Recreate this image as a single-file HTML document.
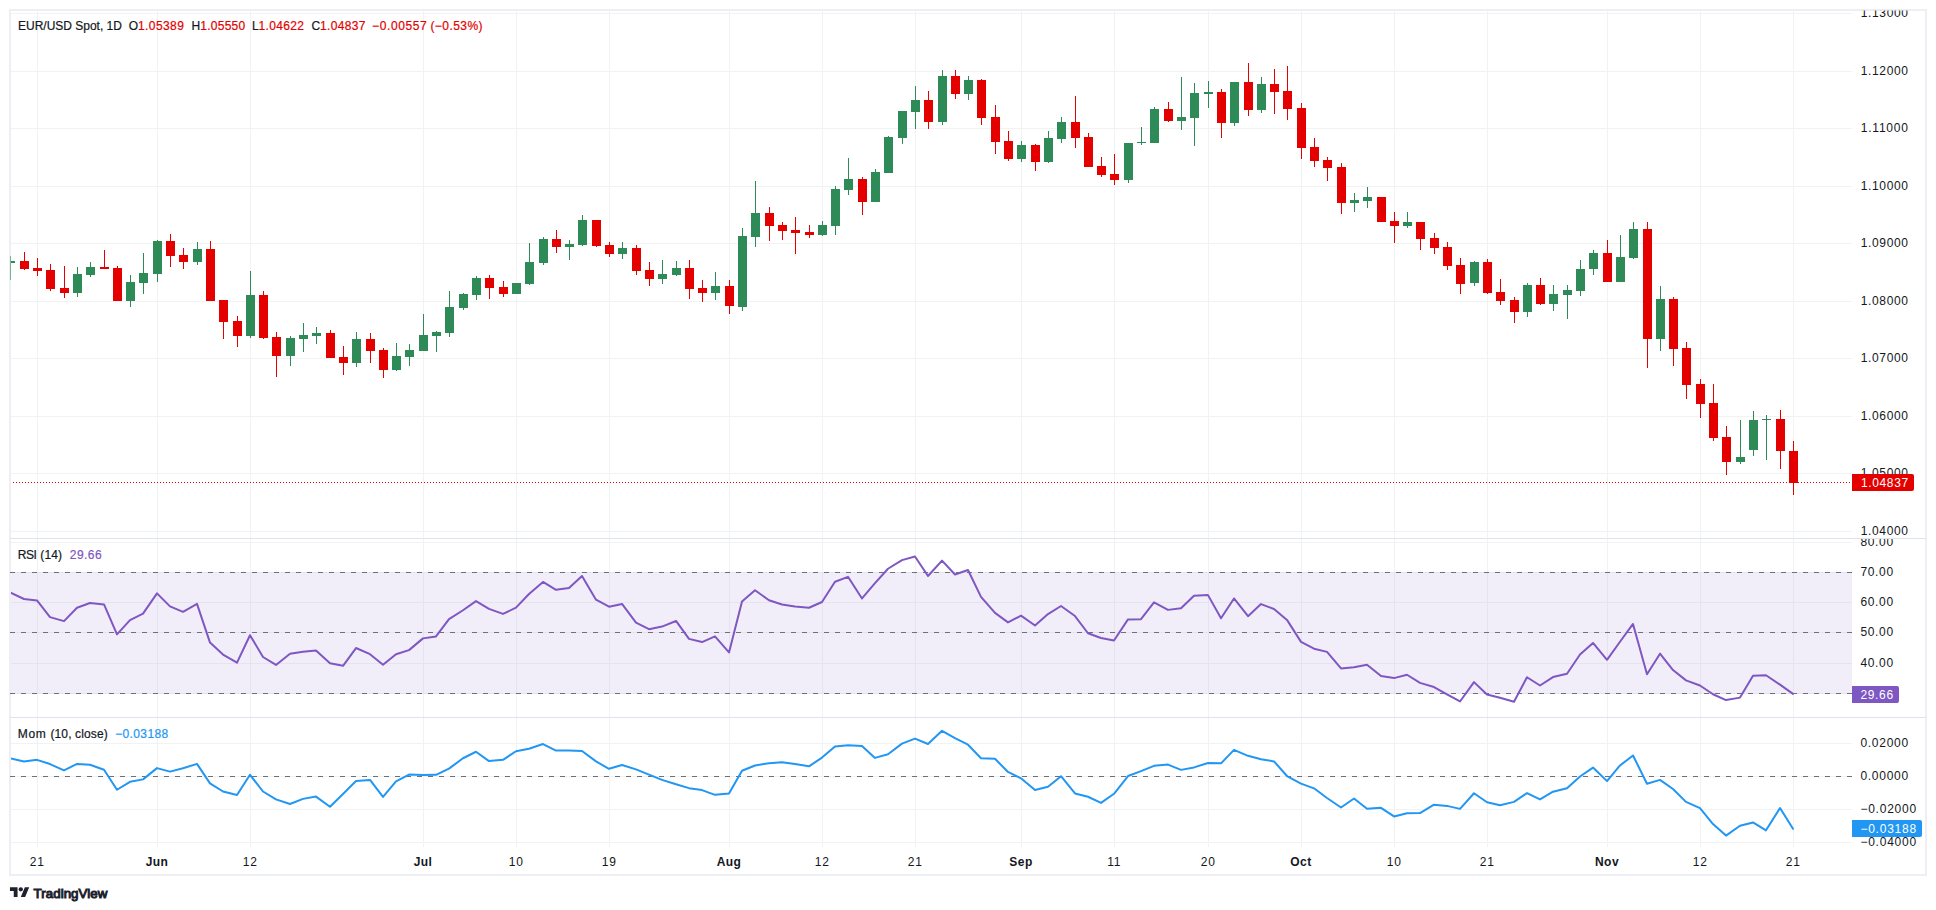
<!DOCTYPE html>
<html lang="en"><head><meta charset="utf-8"><title>EUR/USD Spot, 1D</title>
<style>html,body{margin:0;padding:0;background:#fff}body{width:1936px;height:910px;overflow:hidden;position:relative}svg{position:absolute;left:0;top:0;display:block}text{font-family:"Liberation Sans",sans-serif;font-size:12px;fill:#131722;stroke:none}.k{stroke:#131722;stroke-width:.2px}.b{font-weight:bold;stroke:none}.w{fill:#fff;stroke:none}.n{letter-spacing:.7px}.m{letter-spacing:.45px}.r{fill:#e50000;stroke:#e50000;stroke-width:.2px}.p{fill:#7e57c2;stroke:#7e57c2;stroke-width:.2px}.bl{fill:#2196f3;stroke:#2196f3;stroke-width:.2px}</style></head><body>
<svg width="1936" height="910" viewBox="0 0 1936 910">
<rect x="0" y="0" width="1936" height="910" fill="#fff"/>
<rect x="10" y="10" width="1916" height="865" fill="none" stroke="#eeeff4" stroke-width="2"/>
<path d="M11 13.50H1852M11 71.50H1852M11 128.50H1852M11 186.50H1852M11 243.50H1852M11 301.50H1852M11 358.50H1852M11 416.50H1852M11 473.50H1852M11 531.50H1852M11 542.50H1852M11 572.50H1852M11 602.50H1852M11 632.50H1852M11 663.50H1852M11 693.50H1852M11 743.50H1852M11 776.50H1852M11 809.50H1852M11 842.50H1852M37.50 11V847M157.50 11V847M250.50 11V847M423.50 11V847M516.50 11V847M609.50 11V847M729.50 11V847M822.50 11V847M915.50 11V847M1021.50 11V847M1114.50 11V847M1208.50 11V847M1301.50 11V847M1394.50 11V847M1487.50 11V847M1607.50 11V847M1700.50 11V847M1793.50 11V847" stroke="#f1f3f2" stroke-width="1" fill="none"/>
<rect x="11" y="572" width="1841" height="122" fill="rgb(126,87,194)" fill-opacity="0.1"/>
<path d="M10 538.5H1926M10 717.5H1926" stroke="#e0e3eb" stroke-width="1" fill="none"/>
<path d="M10 572.5H1852M10 632.5H1852M10 693.5H1852M10 776.5H1852" stroke="#6d707b" stroke-width="1" stroke-dasharray="5 6" fill="none"/>
<clipPath id="cp"><rect x="11" y="11" width="1841" height="527"/></clipPath>
<rect x="10" y="256" width="1" height="24" fill="#2e8b57" fill-opacity="0.6"/>
<g clip-path="url(#cp)"><path d="M6.0 261h9V263h-9zM77.0 267h1V297h-1zM73.0 274h9V293h-9zM90.0 262h1V277h-1zM86.0 267h9V275h-9zM130.0 275h1V307h-1zM126.0 282h9V301h-9zM143.0 253h1V294h-1zM139.0 273h9V283h-9zM157.0 240h1V282h-1zM153.0 241h9V274h-9zM197.0 242h1V265h-1zM193.0 249h9V262h-9zM250.0 271h1V338h-1zM246.0 295h9V336h-9zM290.0 336h1V366h-1zM286.0 338h9V356h-9zM303.0 323h1V352h-1zM299.0 335h9V339h-9zM316.0 327h1V344h-1zM312.0 333h9V336h-9zM356.0 332h1V367h-1zM352.0 339h9V363h-9zM396.0 343h1V371h-1zM392.0 356h9V370h-9zM409.0 344h1V366h-1zM405.0 350h9V357h-9zM423.0 314h1V351h-1zM419.0 335h9V351h-9zM436.0 331h1V352h-1zM432.0 332h9V336h-9zM449.0 291h1V337h-1zM445.0 307h9V333h-9zM463.0 293h1V310h-1zM459.0 294h9V308h-9zM476.0 276h1V300h-1zM472.0 278h9V295h-9zM516.0 283h1V294h-1zM512.0 283h9V294h-9zM529.0 243h1V285h-1zM525.0 262h9V284h-9zM543.0 237h1V265h-1zM539.0 239h9V263h-9zM569.0 240h1V260h-1zM565.0 244h9V247h-9zM582.0 215h1V246h-1zM578.0 220h9V245h-9zM622.0 242h1V259h-1zM618.0 248h9V254h-9zM662.0 260h1V284h-1zM658.0 274h9V279h-9zM676.0 261h1V276h-1zM672.0 268h9V275h-9zM715.0 272h1V300h-1zM711.0 286h9V293h-9zM742.0 228h1V311h-1zM738.0 236h9V307h-9zM755.0 181h1V247h-1zM751.0 213h9V237h-9zM822.0 221h1V236h-1zM818.0 225h9V235h-9zM835.0 186h1V235h-1zM831.0 189h9V226h-9zM848.0 158h1V195h-1zM844.0 179h9V190h-9zM875.0 169h1V202h-1zM871.0 172h9V202h-9zM888.0 136h1V173h-1zM884.0 137h9V173h-9zM902.0 111h1V144h-1zM898.0 111h9V138h-9zM915.0 86h1V129h-1zM911.0 100h9V112h-9zM942.0 70h1V125h-1zM938.0 76h9V122h-9zM968.0 76h1V100h-1zM964.0 80h9V94h-9zM1021.0 141h1V162h-1zM1017.0 145h9V159h-9zM1048.0 131h1V163h-1zM1044.0 138h9V162h-9zM1061.0 117h1V143h-1zM1057.0 122h9V139h-9zM1128.0 143h1V183h-1zM1124.0 143h9V180h-9zM1141.0 127h1V145h-1zM1137.0 142h9V143h-9zM1154.0 107h1V143h-1zM1150.0 109h9V143h-9zM1181.0 77h1V130h-1zM1177.0 117h9V121h-9zM1194.0 83h1V146h-1zM1190.0 93h9V118h-9zM1208.0 81h1V108h-1zM1204.0 92h9V94h-9zM1234.0 82h1V126h-1zM1230.0 82h9V123h-9zM1261.0 77h1V113h-1zM1257.0 84h9V110h-9zM1354.0 193h1V212h-1zM1350.0 200h9V203h-9zM1367.0 187h1V208h-1zM1363.0 197h9V201h-9zM1407.0 212h1V228h-1zM1403.0 222h9V226h-9zM1474.0 261h1V286h-1zM1470.0 262h9V283h-9zM1527.0 283h1V317h-1zM1523.0 285h9V312h-9zM1553.0 285h1V311h-1zM1549.0 294h9V304h-9zM1567.0 285h1V319h-1zM1563.0 290h9V295h-9zM1580.0 260h1V296h-1zM1576.0 269h9V291h-9zM1593.0 250h1V275h-1zM1589.0 253h9V269h-9zM1620.0 235h1V282h-1zM1616.0 257h9V282h-9zM1633.0 222h1V259h-1zM1629.0 229h9V258h-9zM1660.0 286h1V351h-1zM1656.0 299h9V339h-9zM1740.0 420h1V464h-1zM1736.0 457h9V462h-9zM1753.0 411h1V456h-1zM1749.0 420h9V450h-9zM1766.0 415h1V460h-1zM1762.0 419h9V420h-9z" fill="#2e8b57"/><path d="M24.0 252h1V270h-1zM20.0 261h9V269h-9zM37.0 258h1V276h-1zM33.0 268h9V271h-9zM50.0 264h1V291h-1zM46.0 270h9V289h-9zM64.0 266h1V298h-1zM60.0 288h9V293h-9zM104.0 250h1V269h-1zM100.0 267h9V269h-9zM117.0 266h1V301h-1zM113.0 268h9V301h-9zM170.0 234h1V267h-1zM166.0 241h9V256h-9zM183.0 248h1V269h-1zM179.0 255h9V262h-9zM210.0 241h1V301h-1zM206.0 249h9V301h-9zM223.0 300h1V339h-1zM219.0 300h9V322h-9zM237.0 316h1V347h-1zM233.0 321h9V336h-9zM263.0 291h1V339h-1zM259.0 295h9V338h-9zM276.0 332h1V377h-1zM272.0 337h9V356h-9zM330.0 330h1V358h-1zM326.0 333h9V358h-9zM343.0 346h1V375h-1zM339.0 357h9V363h-9zM370.0 333h1V363h-1zM366.0 339h9V351h-9zM383.0 348h1V378h-1zM379.0 350h9V370h-9zM489.0 275h1V299h-1zM485.0 278h9V288h-9zM503.0 281h1V297h-1zM499.0 287h9V294h-9zM556.0 230h1V253h-1zM552.0 239h9V247h-9zM596.0 220h1V247h-1zM592.0 220h9V246h-9zM609.0 242h1V257h-1zM605.0 245h9V254h-9zM636.0 245h1V275h-1zM632.0 248h9V271h-9zM649.0 262h1V286h-1zM645.0 270h9V279h-9zM689.0 260h1V299h-1zM685.0 268h9V289h-9zM702.0 280h1V302h-1zM698.0 288h9V293h-9zM729.0 280h1V314h-1zM725.0 286h9V306h-9zM769.0 207h1V241h-1zM765.0 213h9V226h-9zM782.0 222h1V240h-1zM778.0 225h9V231h-9zM795.0 217h1V254h-1zM791.0 230h9V233h-9zM809.0 225h1V238h-1zM805.0 232h9V235h-9zM862.0 177h1V215h-1zM858.0 179h9V202h-9zM928.0 91h1V129h-1zM924.0 100h9V122h-9zM955.0 70h1V99h-1zM951.0 76h9V94h-9zM981.0 79h1V125h-1zM977.0 80h9V118h-9zM995.0 105h1V154h-1zM991.0 117h9V142h-9zM1008.0 131h1V161h-1zM1004.0 141h9V159h-9zM1035.0 144h1V171h-1zM1031.0 145h9V162h-9zM1075.0 96h1V148h-1zM1071.0 122h9V138h-9zM1088.0 133h1V167h-1zM1084.0 137h9V167h-9zM1101.0 157h1V177h-1zM1097.0 166h9V175h-9zM1114.0 154h1V185h-1zM1110.0 174h9V180h-9zM1168.0 102h1V122h-1zM1164.0 109h9V121h-9zM1221.0 89h1V138h-1zM1217.0 92h9V123h-9zM1248.0 63h1V116h-1zM1244.0 82h9V110h-9zM1274.0 69h1V114h-1zM1270.0 84h9V92h-9zM1287.0 66h1V120h-1zM1283.0 91h9V109h-9zM1301.0 103h1V159h-1zM1297.0 108h9V148h-9zM1314.0 138h1V167h-1zM1310.0 147h9V161h-9zM1327.0 157h1V181h-1zM1323.0 160h9V168h-9zM1341.0 163h1V214h-1zM1337.0 167h9V203h-9zM1381.0 197h1V222h-1zM1377.0 197h9V222h-9zM1394.0 212h1V243h-1zM1390.0 221h9V226h-9zM1420.0 222h1V250h-1zM1416.0 222h9V239h-9zM1434.0 233h1V254h-1zM1430.0 238h9V248h-9zM1447.0 242h1V270h-1zM1443.0 247h9V266h-9zM1460.0 258h1V294h-1zM1456.0 265h9V284h-9zM1487.0 259h1V294h-1zM1483.0 262h9V293h-9zM1500.0 279h1V305h-1zM1496.0 292h9V301h-9zM1514.0 297h1V323h-1zM1510.0 300h9V312h-9zM1540.0 278h1V305h-1zM1536.0 285h9V304h-9zM1607.0 240h1V282h-1zM1603.0 253h9V282h-9zM1647.0 222h1V368h-1zM1643.0 229h9V339h-9zM1673.0 297h1V366h-1zM1669.0 299h9V349h-9zM1686.0 342h1V399h-1zM1682.0 348h9V385h-9zM1700.0 379h1V418h-1zM1696.0 384h9V404h-9zM1713.0 384h1V441h-1zM1709.0 403h9V438h-9zM1726.0 426h1V475h-1zM1722.0 437h9V462h-9zM1780.0 410h1V469h-1zM1776.0 419h9V451h-9zM1793.0 441h1V495h-1zM1789.0 451h9V483h-9z" fill="#e50000"/></g>
<path d="M13 482.5H1852" stroke="#e50000" stroke-width="1" stroke-dasharray="1 2" fill="none"/>
<clipPath id="cp2"><rect x="11" y="538" width="1841" height="310"/></clipPath>
<g clip-path="url(#cp2)" fill="none" stroke-linejoin="round" stroke-linecap="round">
<polyline points="10.0,592.48 24.0,598.98 37.0,600.39 50.0,617.09 64.0,621.14 77.0,607.77 90.0,603.03 104.0,604.43 117.0,634.32 130.0,620.08 143.0,613.58 157.0,593.36 170.0,606.37 183.0,611.82 197.0,603.91 210.0,642.59 223.0,654.54 237.0,662.63 250.0,635.20 263.0,657.00 276.0,664.91 290.0,653.84 303.0,651.73 316.0,650.50 330.0,663.15 343.0,665.79 356.0,648.04 370.0,654.19 383.0,664.74 396.0,654.19 409.0,650.14 423.0,638.37 436.0,636.43 449.0,619.03 463.0,610.24 476.0,601.09 489.0,608.83 503.0,613.93 516.0,607.60 529.0,594.06 543.0,581.93 556.0,589.84 569.0,588.08 582.0,575.95 596.0,599.69 609.0,606.72 622.0,603.91 636.0,622.72 649.0,629.22 662.0,626.59 676.0,620.96 689.0,638.89 702.0,642.06 715.0,636.43 729.0,652.43 742.0,601.45 755.0,590.19 769.0,600.22 782.0,604.43 795.0,606.54 809.0,607.77 822.0,601.97 835.0,581.76 848.0,576.83 862.0,598.46 875.0,583.16 888.0,568.75 902.0,560.13 915.0,556.44 928.0,575.95 942.0,560.66 955.0,574.55 968.0,569.98 981.0,596.87 995.0,612.87 1008.0,622.37 1021.0,615.69 1035.0,625.53 1048.0,614.10 1061.0,606.02 1075.0,616.04 1088.0,633.27 1101.0,638.01 1114.0,640.48 1128.0,619.38 1141.0,619.20 1154.0,602.32 1168.0,609.88 1181.0,608.30 1194.0,595.82 1208.0,595.12 1221.0,618.32 1234.0,598.46 1248.0,616.21 1261.0,604.08 1274.0,609.01 1287.0,619.91 1301.0,641.88 1314.0,648.74 1327.0,651.90 1341.0,668.43 1354.0,667.20 1367.0,664.74 1381.0,675.99 1394.0,678.10 1407.0,674.76 1420.0,682.85 1434.0,687.06 1447.0,694.45 1460.0,701.48 1474.0,682.14 1487.0,694.45 1500.0,697.79 1514.0,701.83 1527.0,677.22 1540.0,685.48 1553.0,677.04 1567.0,673.70 1580.0,654.54 1593.0,642.94 1607.0,659.81 1620.0,641.71 1633.0,623.95 1647.0,674.23 1660.0,653.66 1673.0,670.01 1686.0,680.38 1700.0,685.48 1713.0,694.27 1726.0,700.07 1740.0,697.61 1753.0,675.81 1766.0,675.29 1780.0,684.60 1793.0,693.92" stroke="#7e57c2" stroke-width="2"/>
<polyline points="10.0,758.26 24.0,761.42 37.0,759.84 50.0,764.06 64.0,770.39 77.0,763.89 90.0,764.77 104.0,769.69 117.0,789.73 130.0,781.82 143.0,779.36 157.0,768.11 170.0,771.62 183.0,768.28 197.0,763.89 210.0,783.40 223.0,791.49 237.0,795.00 250.0,774.79 263.0,791.49 276.0,799.40 290.0,803.97 303.0,798.87 316.0,796.59 330.0,806.78 343.0,793.95 356.0,780.94 370.0,779.88 383.0,796.94 396.0,781.29 409.0,774.61 423.0,774.96 436.0,774.79 449.0,768.63 463.0,758.26 476.0,751.76 489.0,761.07 503.0,759.84 516.0,751.23 529.0,748.77 543.0,744.02 556.0,750.52 569.0,750.52 582.0,751.05 596.0,761.42 609.0,768.81 622.0,764.94 636.0,769.34 649.0,774.61 662.0,779.88 676.0,784.28 689.0,788.15 702.0,790.08 715.0,794.83 729.0,793.42 742.0,770.74 755.0,765.47 769.0,763.18 782.0,762.30 795.0,764.06 809.0,766.35 822.0,757.56 835.0,746.48 848.0,745.25 862.0,745.95 875.0,757.91 888.0,754.22 902.0,743.67 915.0,738.57 928.0,744.02 942.0,730.83 955.0,738.22 968.0,744.72 981.0,758.26 995.0,758.79 1008.0,771.97 1021.0,778.30 1035.0,789.91 1048.0,786.74 1061.0,776.19 1075.0,793.42 1088.0,796.76 1101.0,802.92 1114.0,793.77 1128.0,776.02 1141.0,771.09 1154.0,765.82 1168.0,764.59 1181.0,769.86 1194.0,767.40 1208.0,763.01 1221.0,763.36 1234.0,749.82 1248.0,755.80 1261.0,759.32 1274.0,761.42 1287.0,776.02 1301.0,783.58 1314.0,788.32 1327.0,797.99 1341.0,807.49 1354.0,798.52 1367.0,808.72 1381.0,807.84 1394.0,816.45 1407.0,813.29 1420.0,813.11 1434.0,804.67 1447.0,805.90 1460.0,808.89 1474.0,793.25 1487.0,802.21 1500.0,805.20 1514.0,801.86 1527.0,793.07 1540.0,799.40 1553.0,791.66 1567.0,788.32 1580.0,776.54 1593.0,767.58 1607.0,781.12 1620.0,765.47 1633.0,755.45 1647.0,783.75 1660.0,779.88 1673.0,789.03 1686.0,801.86 1700.0,808.19 1713.0,824.01 1726.0,835.62 1740.0,825.77 1753.0,822.43 1766.0,830.34 1780.0,808.01 1793.0,828.76" stroke="#2196f3" stroke-width="2"/>
</g>
<clipPath id="c1"><rect x="1852" y="10.5" width="73" height="527.5"/></clipPath><g clip-path="url(#c1)">
<text x="1860.7" y="17.0" textLength="47.3" lengthAdjust="spacing">1.13000</text>
<text x="1860.7" y="75.0" textLength="47.3" lengthAdjust="spacing">1.12000</text>
<text x="1860.7" y="132.0" textLength="47.3" lengthAdjust="spacing">1.11000</text>
<text x="1860.7" y="190.0" textLength="47.3" lengthAdjust="spacing">1.10000</text>
<text x="1860.7" y="247.0" textLength="47.3" lengthAdjust="spacing">1.09000</text>
<text x="1860.7" y="305.0" textLength="47.3" lengthAdjust="spacing">1.08000</text>
<text x="1860.7" y="362.0" textLength="47.3" lengthAdjust="spacing">1.07000</text>
<text x="1860.7" y="420.0" textLength="47.3" lengthAdjust="spacing">1.06000</text>
<text x="1860.7" y="477.0" textLength="47.3" lengthAdjust="spacing">1.05000</text>
<text x="1860.7" y="535.0" textLength="47.3" lengthAdjust="spacing">1.04000</text>
</g>
<clipPath id="c2"><rect x="1852" y="539" width="73" height="178"/></clipPath><g clip-path="url(#c2)">
<text x="1860.4" y="546.0" textLength="32.7" lengthAdjust="spacing">80.00</text>
<text x="1860.4" y="576.0" textLength="32.7" lengthAdjust="spacing">70.00</text>
<text x="1860.4" y="606.0" textLength="32.7" lengthAdjust="spacing">60.00</text>
<text x="1860.4" y="636.0" textLength="32.7" lengthAdjust="spacing">50.00</text>
<text x="1860.4" y="667.0" textLength="32.7" lengthAdjust="spacing">40.00</text>
</g>
<clipPath id="c3"><rect x="1852" y="718" width="73" height="156"/></clipPath><g clip-path="url(#c3)">
<text x="1860.4" y="747.0" textLength="47.7" lengthAdjust="spacing">0.02000</text>
<text x="1860.4" y="780.0" textLength="47.7" lengthAdjust="spacing">0.00000</text>
<text x="1860.4" y="813.0" textLength="55.8" lengthAdjust="spacing">−0.02000</text>
<text x="1860.4" y="846.0" textLength="55.8" lengthAdjust="spacing">−0.04000</text>
</g>
<path d="M1852 474H1912a2 2 0 0 1 2 2V489a2 2 0 0 1 -2 2H1852z" fill="#e50000"/>
<text x="1860.9" y="487.0" textLength="47.3" lengthAdjust="spacing" class="w">1.04837</text>
<path d="M1852 686H1897a2 2 0 0 1 2 2V701a2 2 0 0 1 -2 2H1852z" fill="#7e57c2"/>
<text x="1860.4" y="699.0" textLength="32.7" lengthAdjust="spacing" class="w">29.66</text>
<path d="M1852 820H1920a2 2 0 0 1 2 2V835a2 2 0 0 1 -2 2H1852z" fill="#2196f3"/>
<text x="1860.4" y="833.0" textLength="55.8" lengthAdjust="spacing" class="w">−0.03188</text>
<text x="18.0" y="29.6" textLength="103.9" lengthAdjust="spacing" class="k">EUR/USD Spot, 1D</text>
<text x="128.8" y="29.6" textLength="9.0" lengthAdjust="spacing" class="k">O</text>
<text x="137.9" y="29.6" textLength="46.0" lengthAdjust="spacing" class="r">1.05389</text>
<text x="191.4" y="29.6" textLength="8.6" lengthAdjust="spacing" class="k">H</text>
<text x="200.2" y="29.6" textLength="45.0" lengthAdjust="spacing" class="r">1.05550</text>
<text x="251.9" y="29.6" textLength="6.5" lengthAdjust="spacing" class="k">L</text>
<text x="258.5" y="29.6" textLength="45.4" lengthAdjust="spacing" class="r">1.04622</text>
<text x="311.4" y="29.6" textLength="8.6" lengthAdjust="spacing" class="k">C</text>
<text x="320.1" y="29.6" textLength="45.4" lengthAdjust="spacing" class="r">1.04837</text>
<text x="372.0" y="29.6" textLength="54.8" lengthAdjust="spacing" class="r">−0.00557</text>
<text x="430.4" y="29.6" textLength="52.2" lengthAdjust="spacing" class="r">(−0.53%)</text>
<text x="17.7" y="558.9" textLength="19.2" lengthAdjust="spacing" class="k">RSI</text>
<text x="40.3" y="558.9" textLength="21.8" lengthAdjust="spacing" class="k">(14)</text>
<text x="69.8" y="558.9" textLength="31.8" lengthAdjust="spacing" class="p">29.66</text>
<text x="17.8" y="738.0" textLength="27.9" lengthAdjust="spacing" class="k">Mom</text>
<text x="50.4" y="738.0" textLength="57.4" lengthAdjust="spacing" class="k">(10, close)</text>
<text x="115.2" y="738.0" textLength="53.0" lengthAdjust="spacing" class="bl">−0.03188</text>
<text x="37.2" y="866.1" class="n" text-anchor="middle">21</text>
<text x="157.0" y="866.1" class="b m" text-anchor="middle">Jun</text>
<text x="250.2" y="866.1" class="n" text-anchor="middle">12</text>
<text x="423.0" y="866.1" class="b m" text-anchor="middle">Jul</text>
<text x="516.2" y="866.1" class="n" text-anchor="middle">10</text>
<text x="609.2" y="866.1" class="n" text-anchor="middle">19</text>
<text x="729.0" y="866.1" class="b m" text-anchor="middle">Aug</text>
<text x="822.2" y="866.1" class="n" text-anchor="middle">12</text>
<text x="915.2" y="866.1" class="n" text-anchor="middle">21</text>
<text x="1021.0" y="866.1" class="b m" text-anchor="middle">Sep</text>
<text x="1114.2" y="866.1" class="n" text-anchor="middle">11</text>
<text x="1208.2" y="866.1" class="n" text-anchor="middle">20</text>
<text x="1301.0" y="866.1" class="b m" text-anchor="middle">Oct</text>
<text x="1394.2" y="866.1" class="n" text-anchor="middle">10</text>
<text x="1487.2" y="866.1" class="n" text-anchor="middle">21</text>
<text x="1607.0" y="866.1" class="b m" text-anchor="middle">Nov</text>
<text x="1700.2" y="866.1" class="n" text-anchor="middle">12</text>
<text x="1793.2" y="866.1" class="n" text-anchor="middle">21</text>
<g transform="translate(9.96 885.03) scale(0.5417)" fill="#1e222d"><path d="M14 22H7V11H0V4h14v18zM28 22h-8l7.5-18h8L28 22z"/><circle cx="20" cy="8" r="4"/></g>
<text x="33.6" y="897.8" style="font-size:13.3px;fill:#1e222d;stroke:#1e222d" textLength="73.7" lengthAdjust="spacing">TradingView</text>
</svg></body></html>
